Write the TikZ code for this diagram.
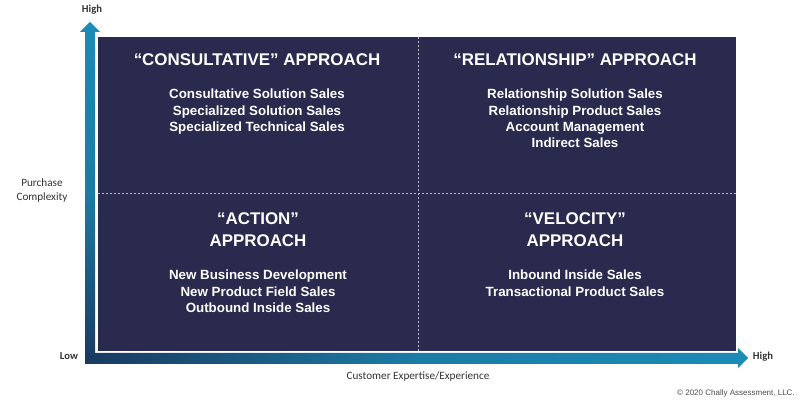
\documentclass[tikz,border=0pt]{standalone}
\usepackage{fontspec}
\setmainfont{Liberation Sans}
\newfontfamily\axisfont{Carlito}
\usetikzlibrary{positioning, calc}
\definecolor{quadnavy}{RGB}{42,42,79}
\definecolor{axisteal}{RGB}{27,140,182}
\definecolor{axisdark}{RGB}{26,58,96}

\begin{document}
\begin{tikzpicture}[x=0.75pt, y=-0.75pt,
    title/.style={text=white, inner sep=0pt, align=center,
                  font=\bfseries\fontsize{12.7}{16.5}\selectfont},
    items/.style={text=white, inner sep=0pt, align=center,
                  font=\bfseries\fontsize{10}{12.2}\selectfont},
    axislabel/.style={text=black!80, inner sep=0pt, align=center,
                      font=\axisfont\fontsize{8.4}{10.5}\selectfont},
    axisend/.style={axislabel, font=\axisfont\bfseries\fontsize{8}{10}\selectfont},
    divider/.style={white!70!quadnavy, line width=0.6pt, dash pattern=on 1.5pt off 1.5pt}
]
\useasboundingbox (0,0) rectangle (800,402);

% quadrant field
\fill[quadnavy] (98,37) rectangle (736,351);
\draw[divider] (418,37) -- (418,351);
\draw[divider] (98,193) -- (736,193);

% axes
\shade[top color=axisteal, bottom color=axisdark, middle color=axisteal!80!axisdark]
  (85,364) -- (85,32) -- (80,32) -- (90,22) -- (100,32) -- (95,32) -- (95,364) -- cycle;
\shade[left color=axisdark, right color=axisteal, middle color=axisteal!80!axisdark]
  (85,353) -- (738,353) -- (738,348) -- (748,358) -- (738,368) -- (738,364) -- (85,364) -- cycle;

\node[axisend] (yhigh) at (92,10) {High};
\node[axisend] (ylow) at (69,356) {Low};
\node[axisend] (xhigh) at (763,357) {High};
\node[axislabel] (ylabel) at (42,191) {Purchase\\Complexity};
\node[axislabel] (xlabel) at (418,377) {Customer Expertise/Experience};
\node[axislabel, anchor=east, text=black!70, font=\fontsize{6}{8}\selectfont] (copy) at (795,393)
  {\textcopyright{} 2020 Chally Assessment, LLC.};

% quadrants
\node[title] (consult) at (257,60) {“CONSULTATIVE” APPROACH};
\node[items, below=17pt of consult] (consultlist)
  {Consultative Solution Sales\\Specialized Solution Sales\\Specialized Technical Sales};

\node[title] (relation) at (575,60) {“RELATIONSHIP” APPROACH};
\node[items, below=17pt of relation] (relationlist)
  {Relationship Solution Sales\\Relationship Product Sales\\Account Management\\Indirect Sales};

\node[title] (action) at (258,230) {“ACTION”\\APPROACH};
\node[items, below=17pt of action] (actionlist)
  {New Business Development\\New Product Field Sales\\Outbound Inside Sales};

\node[title] (velocity) at (575,230) {“VELOCITY”\\APPROACH};
\node[items, below=17pt of velocity] (velocitylist)
  {Inbound Inside Sales\\Transactional Product Sales};
\end{tikzpicture}
\end{document}
